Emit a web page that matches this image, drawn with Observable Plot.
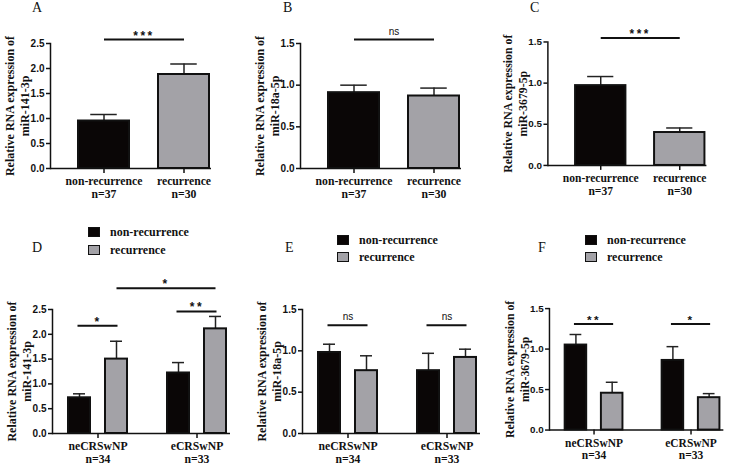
<!DOCTYPE html>
<html><head><meta charset="utf-8">
<script src="https://cdn.jsdelivr.net/npm/d3@7"></script>
<script src="https://cdn.jsdelivr.net/npm/@observablehq/plot@0.6"></script>
<style>
body{margin:0;background:#fff;}
#root{position:relative;width:740px;height:466px;overflow:hidden;background:#fff;}
.panel{position:absolute;}
.letter{position:absolute;font-family:"Liberation Serif";font-size:14px;line-height:14px;color:#111;}
.leg{position:absolute;font-family:"Liberation Serif";font-weight:bold;font-size:12px;line-height:12px;color:#111;display:flex;align-items:center;white-space:nowrap;}
.sw{width:12px;height:10px;box-sizing:border-box;border:1.5px solid #111;margin-right:10px;}
</style></head><body><div id="root"></div>
<script>
// ---------- data ----------
const topCats = ["non-recurrence", "recurrence"];
const topN = [37, 30];
const a141Mean = [0.95, 1.88];
const a141Err = [0.13, 0.21];
const b18aMean = [0.91, 0.87];
const b18aErr = [0.09, 0.095];
const c3679Mean = [0.97, 0.40];
const c3679Err = [0.11, 0.055];

const subgroups = ["neCRSwNP", "eCRSwNP"];
const subN = [34, 33];
const series = ["non-recurrence", "recurrence"];
const d141Non = [0.72, 1.22];
const d141NonErr = [0.08, 0.21];
const d141Rec = [1.50, 2.11];
const d141RecErr = [0.36, 0.25];
const e18aNon = [0.98, 0.76];
const e18aNonErr = [0.10, 0.21];
const e18aRec = [0.76, 0.92];
const e18aRecErr = [0.18, 0.10];
const f3679Non = [1.05, 0.86];
const f3679NonErr = [0.13, 0.17];
const f3679Rec = [0.455, 0.40];
const f3679RecErr = [0.135, 0.05];

const yTicks25 = [0, 0.5, 1.0, 1.5, 2.0, 2.5];
const yTicks15 = [0, 0.5, 1.0, 1.5];

const labelA = "Relative RNA expression of\nmiR-141-3p";
const labelB = "Relative RNA expression of\nmiR-18a-5p";
const labelC = "Relative RNA expression of\nmiR-3679-5p";

const sigTopA = {label: "***", y: 2.58};
const sigTopB = {label: "ns", y: 1.548};
const sigTopC = {label: "***", y: 1.548};
const sigD = [{group: "neCRSwNP", label: "*", y: 2.17}, {group: "eCRSwNP", label: "**", y: 2.46}];
const sigDCross = {label: "*", y: 2.93};
const sigE = [{group: "neCRSwNP", label: "ns", y: 1.31}, {group: "eCRSwNP", label: "ns", y: 1.31}];
const sigF = [{group: "neCRSwNP", label: "**", y: 1.31}, {group: "eCRSwNP", label: "*", y: 1.31}];

// ---------- styles ----------
const BLACK = "#0a0606", GRAY = "#a3a2a7", INK = "#111";
const SERIF = "Liberation Serif", SANS = "Liberation Sans";
const root = document.getElementById("root");

function place(el, left, top) {
  const d = document.createElement("div");
  d.className = "panel"; d.style.left = left + "px"; d.style.top = top + "px";
  d.appendChild(el); root.appendChild(d);
}
function sigText(data, opts) {
  return Plot.text(data, {text: "label", fontFamily: SANS, fill: INK, lineAnchor: "bottom", ...opts});
}
function yLabel(label) {
  return Plot.text([label], {text: d => d, frameAnchor: "left", textAnchor: "middle", rotate: -90, dx: -47, lineAnchor: "top",
    lineHeight: 1.25, fontSize: 12, fontWeight: "bold", fontFamily: SERIF, fill: INK});
}
function yAxis(ticks) {
  return Plot.axisY({ticks, tickFormat: d3.format(".1f"), tickSize: 4, tickPadding: 2, fontSize: 10,
    fontWeight: "bold", fontFamily: SANS, color: INK, strokeWidth: 1.5, label: null});
}
function xAxis(nOf) {
  return Plot.axisX({tickSize: 5, tickPadding: 3, fontSize: 11.7, fontWeight: "bold", fontFamily: SERIF, color: INK,
    strokeWidth: 1.5, lineHeight: 1.08, label: null, tickFormat: d => d + "\nn=" + nOf[d]});
}

function topPanel(left, top, means, errs, yMax, ticks, label, sig) {
  const rows = topCats.map((c, i) => ({cat: c, n: topN[i], mean: means[i], top: means[i] + errs[i]}));
  const nOf = Object.fromEntries(rows.map(r => [r.cat, r.n]));
  const isStar = sig.label !== "ns";
  const svg = Plot.plot({
    width: 245, height: 215, marginLeft: 50, marginRight: 34, marginTop: 43, marginBottom: 47,
    style: {fontFamily: SANS, background: "transparent", overflow: "visible"},
    x: {domain: topCats, range: [77, 210], paddingInner: 0.3375, paddingOuter: 0, axis: null},
    y: {domain: [0, yMax], axis: null},
    color: {domain: topCats, range: [BLACK, GRAY]},
    marks: [
      Plot.ruleX(rows, {x: "cat", y1: "mean", y2: "top", stroke: "#222", strokeWidth: 1.5}),
      Plot.tickY(rows, {x: "cat", y: "top", stroke: "#222", strokeWidth: 1.5, insetLeft: 13.25, insetRight: 13.25}),
      Plot.barY(rows, {x: "cat", y: "mean", fill: "cat", stroke: INK, strokeWidth: 2, insetLeft: 1, insetRight: 1}),
      Plot.ruleY([0], {stroke: INK, strokeWidth: 1.5}),
      Plot.frame({anchor: "left", stroke: INK, strokeWidth: 1.5}),
      yAxis(ticks),
      xAxis(nOf),
      Plot.link([{from: topCats[0], to: topCats[1], y: sig.y}], {x1: "from", x2: "to", y1: "y", y2: "y", stroke: INK, strokeWidth: 2}),
      sigText([{...sig, cat: topCats[0]}], {x: "cat", y: "y", dx: 40, dy: isStar ? 0 : -5,
        fontSize: isStar ? 12 : 10, fontWeight: isStar ? "bold" : "normal"}),
      yLabel(label)
    ]
  });
  place(svg, left, top);
}

function bottomPanel(left, top, non, nonErr, rec, recErr, yMax, ticks, label, sigs, cross) {
  const nonRows = subgroups.map((g, i) => ({group: g, series: series[0], mean: non[i], top: non[i] + nonErr[i]}));
  const recRows = subgroups.map((g, i) => ({group: g, series: series[1], mean: rec[i], top: rec[i] + recErr[i]}));
  const nOf = Object.fromEntries(subgroups.map((g, i) => [g, subN[i]]));
  const star = sigs[0].label !== "ns";
  const marks = [
    Plot.ruleX(nonRows, {x: "group", y1: "mean", y2: "top", dx: -18.5, stroke: "#222", strokeWidth: 1.5}),
    Plot.ruleX(recRows, {x: "group", y1: "mean", y2: "top", dx: 18.5, stroke: "#222", strokeWidth: 1.5}),
    Plot.tickY(nonRows, {x: "group", y: "top", stroke: "#222", strokeWidth: 1.5, insetLeft: 6, insetRight: 43}),
    Plot.tickY(recRows, {x: "group", y: "top", stroke: "#222", strokeWidth: 1.5, insetLeft: 43, insetRight: 6}),
    Plot.barY(nonRows, {x: "group", y: "mean", fill: "series", stroke: INK, strokeWidth: 2, insetLeft: 1, insetRight: 38}),
    Plot.barY(recRows, {x: "group", y: "mean", fill: "series", stroke: INK, strokeWidth: 2, insetLeft: 38, insetRight: 1}),
    Plot.ruleY([0], {stroke: INK, strokeWidth: 1.5}),
    Plot.frame({anchor: "left", stroke: INK, strokeWidth: 1.5}),
    yAxis(ticks),
    xAxis(nOf),
    Plot.tickY(sigs, {x: "group", y: "y", stroke: INK, strokeWidth: 2, insetLeft: 10.5, insetRight: 10.5}),
    sigText(sigs, {x: "group", y: "y", dy: star ? 0 : -5, fontSize: star ? 12 : 10, fontWeight: star ? "bold" : "normal"}),
    yLabel(label)
  ];
  if (cross) {
    marks.push(Plot.link([{from: subgroups[0], to: subgroups[1], y: cross.y}], {x1: "from", x2: "to", y1: "y", y2: "y", dx: 18.5, stroke: INK, strokeWidth: 2}));
    marks.push(sigText([{...cross, group: subgroups[0]}], {x: "group", y: "y", dx: 68, dy: 0, fontSize: 12, fontWeight: "bold"}));
  }
  const svg = Plot.plot({
    width: 245, height: 215, marginLeft: 50, marginRight: 17, marginTop: 44, marginBottom: 47,
    style: {fontFamily: SANS, background: "transparent", overflow: "visible"},
    x: {domain: subgroups, range: [65, 225], paddingInner: 0.384, paddingOuter: 0, axis: null},
    y: {domain: [0, yMax], axis: null},
    color: {domain: series, range: [BLACK, GRAY]},
    marks
  });
  place(svg, left, top);
}

function letter(txt, left, top) {
  const d = document.createElement("div");
  d.className = "letter"; d.textContent = txt;
  d.style.left = left + "px"; d.style.top = top + "px";
  root.appendChild(d);
}
function legendItem(txt, color, left, top) {
  const d = document.createElement("div");
  d.className = "leg"; d.style.left = left + "px"; d.style.top = top + "px";
  const sw = document.createElement("span"); sw.className = "sw"; sw.style.background = color;
  const t = document.createElement("span"); t.textContent = txt;
  d.appendChild(sw); d.appendChild(t); root.appendChild(d);
}

topPanel(0, 0, a141Mean, a141Err, 2.5, yTicks25, labelA, sigTopA);
topPanel(250, 0, b18aMean, b18aErr, 1.5, yTicks15, labelB, sigTopB);
topPanel(498, -1, c3679Mean, c3679Err, 1.5, yTicks15, labelC, sigTopC);
bottomPanel(2, 265, d141Non, d141NonErr, d141Rec, d141RecErr, 2.5, yTicks25, labelA, sigD, sigDCross);
bottomPanel(252, 265, e18aNon, e18aNonErr, e18aRec, e18aRecErr, 1.5, yTicks15, labelB, sigE, null);
bottomPanel(500, 265, f3679Non, f3679NonErr, f3679Rec, f3679RecErr, 1.5, yTicks15, labelC, sigF, null);

letter("A", 32, 1); letter("B", 283, 1); letter("C", 530, 1);
letter("D", 32, 241); letter("E", 285, 241); letter("F", 538, 241);

legendItem(series[0], BLACK, 88, 226);
legendItem(series[1], GRAY, 88, 244);
legendItem(series[0], BLACK, 337, 234);
legendItem(series[1], GRAY, 337, 251);
legendItem(series[0], BLACK, 585, 234);
legendItem(series[1], GRAY, 585, 251);

d3.selectAll("svg text").filter(function () { return /^\*+$/.test(this.textContent); })
  .style("letter-spacing", "2.5px");
</script>
</body></html>
